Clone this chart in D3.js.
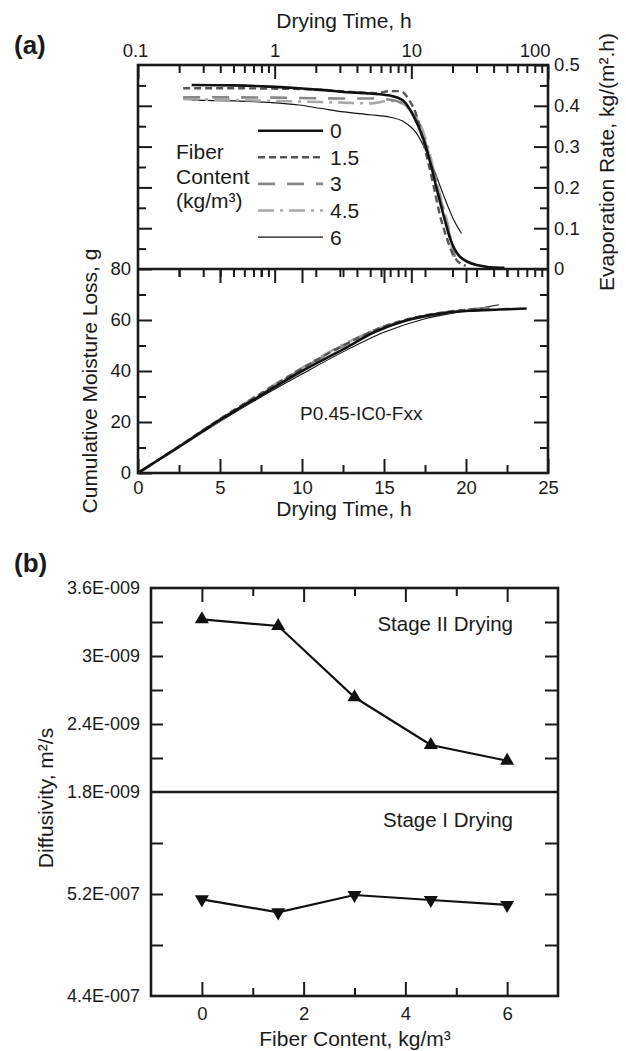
<!DOCTYPE html>
<html><head><meta charset="utf-8">
<script src="https://cdn.jsdelivr.net/npm/d3@7/dist/d3.min.js"></script>
<style>
body{margin:0;background:#fff;}
svg{display:block;font-family:"Liberation Sans",Arial,Helvetica,sans-serif;}
</style></head>
<body><svg id="c" width="626" height="1051"></svg>
<script>
// ---------- DATA ----------
const fiberLevels = ["0", "1.5", "3", "4.5", "6"];

// Evaporation rate (kg/(m2.h)) vs drying time (h, log scale)
const evapTime_0  = [0.247,0.5,0.92,1.5,2.15,3.2,5,7,8.7,10.3,12.2,13.7,15.3,17.2,19.2,22.7,30,44.6,48];
const evapRate_0  = [0.451,0.450,0.447,0.443,0.439,0.434,0.430,0.425,0.413,0.377,0.32,0.263,0.198,0.132,0.075,0.03,0.01,0.003,0.003];
const evapTime_15 = [0.214,0.5,1,2,4,5.5,7,8.3,9.8,10.9,12.9,14.5,16.2,18.2,20.3,22.5,25];
const evapRate_15 = [0.443,0.443,0.442,0.44,0.433,0.431,0.436,0.436,0.41,0.377,0.279,0.206,0.132,0.075,0.034,0.015,0.008];
const evapTime_3  = [0.214,1,3,5,7,8.7,10,11.6,13.2,15,17,19,20.9];
const evapRate_3  = [0.421,0.42,0.418,0.418,0.415,0.405,0.385,0.35,0.29,0.22,0.15,0.085,0.03];
const evapTime_45 = [0.214,1,3,5,7,8.7,10,11.6,13.2,15,17,19,20.2];
const evapRate_45 = [0.416,0.412,0.408,0.406,0.412,0.405,0.385,0.355,0.3,0.225,0.155,0.09,0.03];
const evapTime_6  = [0.247,0.5,0.93,1.5,2.15,3.2,5,7,8.7,10.9,12.2,14.5,17.2,20.2,23.3];
const evapRate_6  = [0.414,0.412,0.408,0.402,0.394,0.385,0.378,0.372,0.362,0.333,0.304,0.247,0.181,0.124,0.087];

// Cumulative moisture loss (g) vs drying time (h)
const cumTime_0  = [0,2.5,5,7.5,10,12.5,14.5,16.2,18.2,20.2,22,23.7];
const cumLoss_0  = [0,10.3,20.8,30.5,40,48.5,55.5,59.5,62.3,63.6,64.1,64.5];
const cumTime_15 = [0,2.5,5,7.5,10,12.5,15,17.5,20,21];
const cumLoss_15 = [0,10.5,21.2,31.2,41,50,57.5,61.8,64,64.5];
const cumTime_3  = [0,2.5,5,7.5,10,12.5,15,17.5,20,21.5];
const cumLoss_3  = [0,10.2,20.6,30.8,40.8,49.8,57.2,61.5,63.8,64.8];
const cumTime_45 = [0,2.5,5,7.5,10,12.5,15,17.5,20,21];
const cumLoss_45 = [0,10.4,21,31.3,41.2,50.3,57.4,61.6,64,64.6];
const cumTime_6  = [0,2.5,5,7.5,10,12.5,15,17.5,20,22];
const cumLoss_6  = [0,10,20.2,29.8,38.8,47.5,55.2,60.5,63.6,66];

// Diffusivity vs fiber content
const fiberContent = [0, 1.5, 3, 4.5, 6];
const diffStage2 = [3.324e-9, 3.265e-9, 2.636e-9, 2.215e-9, 2.076e-9];
const diffStage1 = [5.158e-7, 5.056e-7, 5.192e-7, 5.153e-7, 5.114e-7];

// Tick labels
const logTickLabels = ["0.1", "1", "10", "100"];
const evapTickLabels = ["0", "0.1", "0.2", "0.3", "0.4", "0.5"];
const cumTickLabels = ["0", "20", "40", "60", "80"];
const timeTickLabels = ["0", "5", "10", "15", "20", "25"];
const stage2TickLabels = ["1.8E-009", "2.4E-009", "3E-009", "3.6E-009"];
const stage1TickLabels = ["4.4E-007", "5.2E-007"];
const fiberTickLabels = ["0", "2", "4", "6"];

// ---------- LAYOUT ----------
const svg = d3.select("#c");
const A = {l:138, r:548, t:65, m:269, b:473};
const B = {l:151, r:558, t:588, m:792, b:996};

const xLog = d3.scaleLog().domain([0.1, 100]).range([A.l, A.r]);
const yEvap = d3.scaleLinear().domain([0, 0.5]).range([A.m, A.t]);
const xLin = d3.scaleLinear().domain([0, 25]).range([A.l, A.r]);
const yCum = d3.scaleLinear().domain([0, 80]).range([A.b, A.m]);
const xFib = d3.scaleLinear().domain([-1, 7]).range([B.l, B.r]);
const yD2 = d3.scaleLinear().domain([1.8e-9, 3.6e-9]).range([B.m, B.t]);
const yD1 = d3.scaleLinear().domain([4.4e-7, 6.0e-7]).range([B.b, B.m]);

const FONT = "Liberation Sans, Arial, sans-serif";
const INK = "#1a1a1a";

function axis(g, gen, values, size, labels, pad, fs) {
  const ax = gen.tickValues(values).tickSizeInner(size).tickSizeOuter(0).tickPadding(pad || 6);
  if (labels) ax.tickFormat((d, i) => labels[i]); else ax.tickFormat("");
  g.call(ax);
  g.select(".domain").remove();
  g.selectAll(".tick line").attr("stroke", INK).attr("stroke-width", 2);
  g.selectAll(".tick text").attr("fill", INK).attr("font-size", fs || 18.5).attr("font-family", FONT);
  return g;
}
function gAt(x, y) { return svg.append("g").attr("transform", `translate(${x},${y})`); }
function label(x, y, t, fs, anchor) {
  return svg.append("text").attr("x", x).attr("y", y).attr("font-size", fs).attr("fill", INK)
    .attr("text-anchor", anchor || "start").text(t);
}

// ---------- PANEL (a) upper: evaporation rate ----------
const logMajor = [0.1, 1, 10, 100];
const logMinor = [];
[0.1, 1, 10].forEach(b => { for (let k = 2; k <= 9; k++) logMinor.push(b * k); });
const topAx = axis(gAt(0, A.t), d3.axisTop(xLog), logMajor, -14, logTickLabels, 8);
topAx.selectAll(".tick text").filter(d => d === 100).attr("text-anchor", "end").attr("x", 2);
topAx.selectAll(".tick text").filter(d => d === 0.1).attr("x", -3);
axis(gAt(0, A.t), d3.axisTop(xLog), logMinor, -8);
axis(gAt(0, A.m), d3.axisBottom(xLog), logMajor.slice(1, 3), 14);
axis(gAt(0, A.m), d3.axisBottom(xLog), logMinor, 8);
const evMajor = [0, 0.1, 0.2, 0.3, 0.4, 0.5];
const evMinor = [0.05, 0.15, 0.25, 0.35, 0.45];
axis(gAt(A.r, 0), d3.axisRight(yEvap), evMajor, -14, evapTickLabels, 6);
axis(gAt(A.r, 0), d3.axisRight(yEvap), evMinor, -8);
axis(gAt(A.l, 0), d3.axisLeft(yEvap), evMajor.slice(1, 5), -14);
axis(gAt(A.l, 0), d3.axisLeft(yEvap), evMinor, -8);

// ---------- PANEL (a) lower: cumulative ----------
const tMajor = [0, 5, 10, 15, 20, 25];
const tMinor = [2.5, 7.5, 12.5, 17.5, 22.5];
axis(gAt(0, A.b), d3.axisBottom(xLin), tMajor, -14, timeTickLabels, 7.5);
axis(gAt(0, A.b), d3.axisBottom(xLin), tMinor, -8);
axis(gAt(0, A.m), d3.axisTop(xLin), tMajor.slice(1, 5), -14);
axis(gAt(0, A.m), d3.axisTop(xLin), tMinor, -8);
const cMajor = [0, 20, 40, 60, 80];
const cMinor = [10, 30, 50, 70];
axis(gAt(A.l, 0), d3.axisLeft(yCum), cMajor, -14, cumTickLabels, 7);
axis(gAt(A.l, 0), d3.axisLeft(yCum), cMinor, -8);
axis(gAt(A.r, 0), d3.axisRight(yCum), cMajor.slice(1, 4), -14);
axis(gAt(A.r, 0), d3.axisRight(yCum), cMinor, -8);

const styles = [
  {c:"#111", w:2.6, dash:null},
  {c:"#555", w:2.4, dash:"7,4"},
  {c:"#888", w:2.6, dash:"17,12"},
  {c:"#a8a8a8", w:2.6, dash:"16,6,3,6"},
  {c:"#111", w:1.1, dash:null}
];
const evapSeries = [[evapTime_0, evapRate_0],[evapTime_15, evapRate_15],[evapTime_3, evapRate_3],[evapTime_45, evapRate_45],[evapTime_6, evapRate_6]];
const cumSeries = [[cumTime_0, cumLoss_0],[cumTime_15, cumLoss_15],[cumTime_3, cumLoss_3],[cumTime_45, cumLoss_45],[cumTime_6, cumLoss_6]];

const lineEvap = d3.line().x(d => xLog(d[0])).y(d => yEvap(d[1])).curve(d3.curveMonotoneX);
const lineCum = d3.line().x(d => xLin(d[0])).y(d => yCum(d[1])).curve(d3.curveMonotoneX);

[4, 3, 2, 1, 0].forEach(i => {
  const s = styles[i];
  const pts = evapSeries[i][0].map((t, k) => [t, evapSeries[i][1][k]]);
  svg.append("path").attr("d", lineEvap(pts)).attr("fill", "none")
    .attr("stroke", s.c).attr("stroke-width", s.w).attr("stroke-dasharray", s.dash);
  const pc = cumSeries[i][0].map((t, k) => [t, cumSeries[i][1][k]]);
  svg.append("path").attr("d", lineCum(pc)).attr("fill", "none")
    .attr("stroke", s.c).attr("stroke-width", s.w).attr("stroke-dasharray", s.dash);
});

svg.append("rect").attr("x", A.l).attr("y", A.t).attr("width", A.r - A.l).attr("height", A.b - A.t)
  .attr("fill", "none").attr("stroke", INK).attr("stroke-width", 2.6);
svg.append("line").attr("x1", A.l).attr("x2", A.r).attr("y1", A.m).attr("y2", A.m)
  .attr("stroke", INK).attr("stroke-width", 2.6);

// legend
["Fiber", "Content", "(kg/m³)"].forEach((t, i) => label(176, 159 + i * 24.5, t, 21));
fiberLevels.forEach((lab, i) => {
  const y = 130.7 + i * 26.6;
  const s = styles[i];
  svg.append("line").attr("x1", 258).attr("x2", 323).attr("y1", y).attr("y2", y)
    .attr("stroke", s.c).attr("stroke-width", s.w).attr("stroke-dasharray", s.dash);
  label(330, y, lab, 21).attr("dy", "0.36em");
});

label(300, 420, "P0.45-IC0-Fxx", 19);

label(344, 28, "Drying Time, h", 21, "middle");
label(344, 516, "Drying Time, h", 21, "middle");
svg.append("text").attr("transform", "translate(614,162) rotate(-90)").attr("text-anchor", "middle")
  .attr("font-size", 21).attr("fill", INK).text("Evaporation Rate, kg/(m².h)");
svg.append("text").attr("transform", "translate(97,381) rotate(-90)").attr("text-anchor", "middle")
  .attr("font-size", 21).attr("fill", INK).text("Cumulative Moisture Loss, g");
label(14, 54, "(a)", 26).attr("font-weight", "bold");

// ---------- PANEL (b) ----------
const fMajor = [0, 2, 4, 6];
const fMinor = [1, 3, 5];
axis(gAt(0, B.b), d3.axisBottom(xFib), fMajor, -14, fiberTickLabels, 10.5);
axis(gAt(0, B.b), d3.axisBottom(xFib), fMinor, -8);
axis(gAt(0, B.t), d3.axisTop(xFib), fMajor, -14);
axis(gAt(0, B.t), d3.axisTop(xFib), fMinor, -8);

const d2Labeled = [1.8e-9, 2.4e-9, 3.0e-9, 3.6e-9];
const d2All = [2.1e-9, 2.4e-9, 2.7e-9, 3.0e-9, 3.3e-9];
axis(gAt(B.l, 0), d3.axisLeft(yD2), d2Labeled, 0, stage2TickLabels, 11, 18);
axis(gAt(B.l, 0), d3.axisLeft(yD2), d2All, -12);
axis(gAt(B.r, 0), d3.axisRight(yD2), d2All, -13);
const d1Labeled = [4.4e-7, 5.2e-7];
const d1All = [4.8e-7, 5.2e-7, 5.6e-7];
axis(gAt(B.l, 0), d3.axisLeft(yD1), d1Labeled, 0, stage1TickLabels, 11, 18);
axis(gAt(B.l, 0), d3.axisLeft(yD1), d1All, -12);
axis(gAt(B.r, 0), d3.axisRight(yD1), d1All, -13);

const lineD2 = d3.line().x((d, i) => xFib(fiberContent[i])).y(d => yD2(d));
const lineD1 = d3.line().x((d, i) => xFib(fiberContent[i])).y(d => yD1(d));
svg.append("path").attr("d", lineD2(diffStage2)).attr("fill", "none").attr("stroke", "#111").attr("stroke-width", 2.2);
svg.append("path").attr("d", lineD1(diffStage1)).attr("fill", "none").attr("stroke", "#111").attr("stroke-width", 2.2);
const tri = d3.symbol(d3.symbolTriangle, 85);
svg.append("g").selectAll("path").data(diffStage2).join("path")
  .attr("d", tri).attr("fill", "#111")
  .attr("transform", (d, i) => `translate(${xFib(fiberContent[i])},${yD2(d)})`);
svg.append("g").selectAll("path").data(diffStage1).join("path")
  .attr("d", tri).attr("fill", "#111")
  .attr("transform", (d, i) => `translate(${xFib(fiberContent[i])},${yD1(d)}) rotate(180)`);

svg.append("rect").attr("x", B.l).attr("y", B.t).attr("width", B.r - B.l).attr("height", B.b - B.t)
  .attr("fill", "none").attr("stroke", INK).attr("stroke-width", 2.6);
svg.append("line").attr("x1", B.l).attr("x2", B.r).attr("y1", B.m).attr("y2", B.m)
  .attr("stroke", INK).attr("stroke-width", 2.6);

label(513, 631, "Stage II Drying", 20.5, "end");
label(513, 827, "Stage I Drying", 20.5, "end");
label(355, 1046, "Fiber Content, kg/m³", 21, "middle");
svg.append("text").attr("transform", "translate(53,798) rotate(-90)").attr("text-anchor", "middle")
  .attr("font-size", 21).attr("fill", INK).text("Diffusivity, m²/s");
label(14, 572, "(b)", 26).attr("font-weight", "bold");
</script></body></html>
